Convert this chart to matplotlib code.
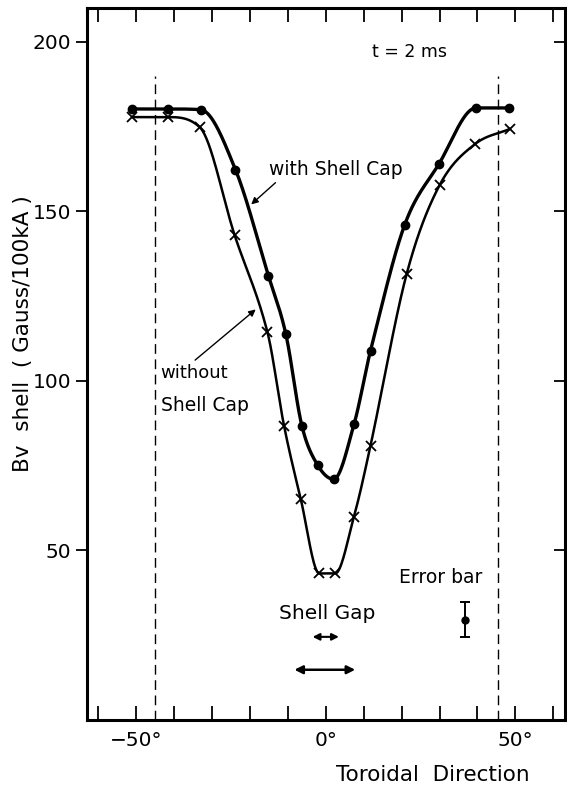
import numpy as np
import matplotlib
matplotlib.use("Agg")
import matplotlib.pyplot as plt

# ---- data ----
angle_with = [-51, -41.7, -33, -23.8, -15.1, -10.5, -6.3, -2.1, 2.1, 7.5, 11.8, 20.8, 29.8, 39.6, 48.3]
bv_with = [180.2, 180.2, 180.0, 162.3, 131.0, 113.7, 86.8, 75.1, 71.0, 87.4, 108.9, 146.0, 163.9, 180.5, 180.5]

angle_without = [-51, -41.7, -33.2, -24, -15.4, -11.0, -6.6, -1.7, 2.5, 7.4, 11.8, 21.3, 30.0, 39.3, 48.5]
bv_without = [177.8, 177.8, 174.8, 142.9, 114.5, 86.8, 65.2, 43.2, 43.2, 59.8, 80.9, 131.4, 157.7, 169.8, 174.3]

err_x = [36.7]
err_y = [29.6]
err_half = [5.2]

cap_edges = [-45.0, 45.3]
cap_top = 190
gap_small = [-4.2, 4.2]
gap_large = [-9.0, 8.5]

x_ticks = [-50, 0, 50]
x_ticklabels = ["\u221250\u00b0", "0\u00b0", "50\u00b0"]
y_ticks = [50, 100, 150, 200]


def smooth_curve(x, y, n=600):
    """Cubic Hermite curve through the points with centred slopes (limited to avoid overshoot)."""
    x = np.asarray(x, float); y = np.asarray(y, float)
    h = np.diff(x); d = np.diff(y) / h
    m = np.zeros_like(y)
    for k in range(1, len(x) - 1):
        if d[k - 1] * d[k] <= 0 or abs(d[k - 1]) < 1e-3 or abs(d[k]) < 1e-3:
            m[k] = 0.0
        else:
            m[k] = (y[k + 1] - y[k - 1]) / (x[k + 1] - x[k - 1])
    m[0] = d[0]; m[-1] = d[-1]
    for k in range(len(d)):
        if abs(d[k]) < 1e-3:
            continue
        a = m[k] / d[k]; b = m[k + 1] / d[k]
        s = a * a + b * b
        if s > 9:
            t = 3 / np.sqrt(s)
            m[k] = t * a * d[k]; m[k + 1] = t * b * d[k]
    xs = np.linspace(x[0], x[-1], n)
    idx = np.clip(np.searchsorted(x, xs) - 1, 0, len(x) - 2)
    t = (xs - x[idx]) / h[idx]
    h00 = 2 * t**3 - 3 * t**2 + 1; h10 = t**3 - 2 * t**2 + t
    h01 = -2 * t**3 + 3 * t**2; h11 = t**3 - t**2
    ys = h00 * y[idx] + h10 * h[idx] * m[idx] + h01 * y[idx + 1] + h11 * h[idx] * m[idx + 1]
    return xs, ys


plt.rcParams['font.family'] = ['DejaVu Sans']
fig = plt.figure(figsize=(5.67, 7.92), dpi=100)
ax = fig.add_axes([0.153, 0.091, 0.843, 0.899])

xs, ys = smooth_curve(angle_with, bv_with)
ax.plot(xs, ys, color='black', lw=2.4)
ax.plot(angle_with, bv_with, 'o', color='black', ms=6)

xs, ys = smooth_curve(angle_without, bv_without)
ax.plot(xs, ys, color='black', lw=1.8)
ax.plot(angle_without, bv_without, 'x', color='black', ms=7, mew=1.3)

for xe in cap_edges:
    ax.plot([xe, xe], [0, cap_top], color='black', lw=1.0, ls=(0, (7, 4)))

ax.errorbar(err_x, err_y, yerr=err_half, fmt='o', color='black', ms=5,
            capsize=3.5, lw=1.4, capthick=1.4)

ax.annotate('', xy=(gap_small[1], 24.5), xytext=(gap_small[0], 24.5),
            arrowprops=dict(arrowstyle='<|-|>', color='black', lw=1.5,
                            mutation_scale=10))
ax.annotate('', xy=(gap_large[1], 14.8), xytext=(gap_large[0], 14.8),
            arrowprops=dict(arrowstyle='<|-|>', color='black', lw=1.8,
                            mutation_scale=12))

ax.text(22, 197, 't = 2 ms', fontsize=12.5, ha='center', va='center')
ax.text(-15, 162.4, 'with Shell Cap', fontsize=13.5, ha='left', va='center')
ax.annotate('', xy=(-20.2, 151.5), xytext=(-12.7, 159.0),
            arrowprops=dict(arrowstyle='-|>', color='black', lw=1.0, mutation_scale=10))
ax.text(-43.5, 102.4, 'without', fontsize=13, ha='left', va='center')
ax.text(-43.5, 92.8, 'Shell Cap', fontsize=13.5, ha='left', va='center')
ax.annotate('', xy=(-17.9, 121.6), xytext=(-35, 105.6),
            arrowprops=dict(arrowstyle='-|>', color='black', lw=1.0, mutation_scale=10))
ax.text(0.5, 31.4, 'Shell Gap', fontsize=14.5, ha='center', va='center')
ax.text(30.3, 42.0, 'Error bar', fontsize=13.5, ha='center', va='center')

ax.set_xlim(-63, 63)
ax.set_ylim(0, 210)
ax.set_xticks(x_ticks)
ax.set_xticklabels(x_ticklabels, fontsize=14.5)
ax.set_xticks(np.arange(-60, 61, 10), minor=True)
ax.set_yticks(y_ticks)
ax.set_yticklabels([str(v) for v in y_ticks], fontsize=14.5)

ax.tick_params(axis='x', which='both', direction='in', length=10, width=1.3,
               top=True, bottom=True, pad=8)
ax.tick_params(axis='y', which='major', direction='out', length=8, width=1.3,
               left=True, right=False, pad=3)
sec = ax.secondary_yaxis('right')
sec.set_yticks(y_ticks)
sec.set_yticklabels([])
sec.tick_params(direction='in', length=8, width=1.3, labelright=False)
sec.spines['right'].set_visible(False)

for s in ax.spines.values():
    s.set_linewidth(2.2)

ax.set_ylabel('Bv  shell  ( Gauss/100kA )', fontsize=15.5)
ax.yaxis.set_label_coords(-0.113, 0.542)
ax.set_xlabel('Toroidal  Direction', fontsize=15.5)
ax.xaxis.set_label_coords(0.725, -0.063)

fig.savefig('out.png', dpi=100)
